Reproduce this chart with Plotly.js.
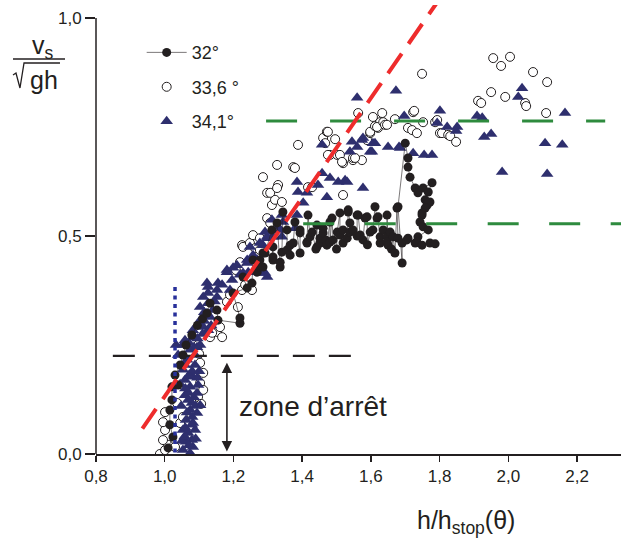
<!DOCTYPE html>
<html>
<head>
<meta charset="utf-8">
<script src="https://cdn.plot.ly/plotly-3.0.1.min.js"></script>
<style>html,body{margin:0;padding:0;background:#fff;}#chart{width:621px;height:548px;}</style>
</head>
<body>
<div id="chart"></div>
<script>
// ---- series 32° (filled circles, joined in measurement order) ----
const x32 = [1.010,1.024,1.015,1.015,1.021,1.021,1.039,1.030,1.045,1.053,1.062,1.079,1.095,1.110,1.123,1.132,1.152,1.155,1.219,1.219,1.199,1.240,1.228,1.254,
  1.257,1.269,1.272,1.277,1.277,1.286,1.286,1.292,1.312,1.315,1.315,1.315,1.327,1.336,1.336,1.341,1.344,1.356,1.356,1.365,1.365,1.374,1.379,1.394,1.394,1.394,
  1.414,1.414,1.417,1.423,1.429,1.440,1.443,1.443,1.452,1.452,1.461,1.461,1.470,1.472,1.481,1.481,1.487,1.490,1.500,1.502,1.510,1.510,1.519,1.519,1.531,1.534,
  1.534,1.539,1.539,1.548,1.560,1.560,1.563,1.569,1.577,1.583,1.589,1.590,1.598,1.606,1.612,1.618,1.621,1.627,1.627,1.636,1.647,1.647,1.647,1.650,1.656,1.660,
  1.665,1.670,1.676,1.679,1.691,1.691,1.679,1.700,1.708,1.708,1.714,1.729,1.737,1.752,1.778,1.767,1.758,1.772,1.764,1.767,1.758,1.749,1.749,1.743,1.752,1.767,
  1.737,1.729,1.708,1.705,1.734,1.749,1.772,1.787];
const y32 = [0.014,0.039,0.067,0.101,0.124,0.154,0.158,0.181,0.204,0.227,0.250,0.273,0.295,0.310,0.323,0.346,0.330,0.307,0.300,0.312,0.369,0.381,0.406,0.392,
  0.445,0.417,0.440,0.445,0.429,0.429,0.461,0.461,0.514,0.445,0.452,0.475,0.530,0.429,0.440,0.463,0.555,0.514,0.468,0.479,0.456,0.484,0.532,0.461,0.507,0.514,
  0.484,0.486,0.548,0.498,0.509,0.470,0.525,0.475,0.484,0.495,0.507,0.518,0.490,0.479,0.532,0.486,0.541,0.491,0.470,0.509,0.553,0.502,0.484,0.514,0.495,0.555,
  0.560,0.530,0.509,0.514,0.500,0.548,0.548,0.502,0.491,0.541,0.544,0.480,0.509,0.514,0.567,0.541,0.544,0.484,0.498,0.514,0.498,0.486,0.548,0.479,0.509,0.470,
  0.498,0.461,0.564,0.495,0.484,0.438,0.567,0.713,0.679,0.658,0.635,0.610,0.599,0.610,0.622,0.601,0.583,0.578,0.571,0.576,0.564,0.553,0.548,0.532,0.521,0.514,
  0.498,0.484,0.495,0.491,0.486,0.479,0.484,0.482];

// ---- series 33,6° (open circles) ----
const x336 = [0.986,1.001,1.010,1.030,0.995,1.001,0.995,1.001,1.045,1.053,1.036,1.097,1.103,1.112,1.103,1.100,1.097,1.112,1.106,1.132,1.132,1.152,1.167,1.161,1.138,1.181,1.190,1.213,1.225,1.234,1.254,1.207,1.219,1.225,1.228,1.248,1.263,1.257,1.277,1.277,1.298,1.307,1.312,1.321,1.341,1.298,1.307,1.330,1.327,1.286,1.327,1.374,1.379,1.388,1.417,1.429,1.461,1.472,1.475,1.467,1.496,1.481,1.502,1.475,1.510,1.519,1.516,1.548,1.574,1.548,1.554,1.519,1.563,1.589,1.598,1.598,1.612,1.621,1.606,1.627,1.618,1.633,1.636,1.641,1.647,1.670,1.723,1.726,1.708,1.720,1.734,1.749,1.752,1.787,1.793,1.801,1.807,1.825,1.831,1.848,1.912,1.921,1.950,1.956,1.979,2.005,1.991,2.049,2.052,2.072,2.113,2.110];
const y336 = [0.000,0.009,0.021,0.016,0.032,0.055,0.073,0.096,0.071,0.085,0.117,0.131,0.163,0.186,0.209,0.230,0.250,0.147,0.115,0.268,0.284,0.280,0.268,0.291,0.278,0.349,0.365,0.337,0.376,0.388,0.376,0.422,0.440,0.479,0.475,0.484,0.472,0.502,0.495,0.468,0.541,0.530,0.571,0.583,0.578,0.599,0.599,0.617,0.610,0.635,0.663,0.658,0.656,0.709,0.612,0.612,0.725,0.739,0.739,0.713,0.722,0.686,0.686,0.686,0.686,0.667,0.670,0.674,0.674,0.679,0.679,0.594,0.782,0.720,0.736,0.739,0.752,0.748,0.773,0.761,0.750,0.782,0.761,0.755,0.755,0.768,0.784,0.787,0.748,0.743,0.736,0.872,0.761,0.761,0.766,0.736,0.736,0.732,0.729,0.716,0.810,0.805,0.830,0.908,0.890,0.911,0.819,0.805,0.798,0.876,0.853,0.782];

// ---- series 34,1° (triangles) ----
const x341 = [1.673,1.560,1.697,1.801,1.793,1.822,1.851,1.848,1.909,1.924,1.950,1.930,1.982,2.040,2.029,2.165,2.107,2.157,2.113,1.650,1.682,1.723,1.755,1.778,1.545,1.574,1.606,1.539,1.560,1.603,1.685,1.525,1.577,1.458,1.577,1.612,1.598,1.385,1.458,1.481,1.505,1.531,1.446,1.472,1.414,1.388,1.403,1.385,1.344,1.330,1.315,1.298,1.341,1.286,1.240,1.257,1.341,1.312,1.336,1.379,1.292,1.277,1.248,1.181,1.199,1.155,1.219,1.243,1.269,1.292,1.126,1.152,1.190,1.210,1.181,1.228,1.167,1.196,1.152,1.123,1.126,1.103,1.103,1.132,1.112,1.082,1.082,1.277,1.298,1.298,1.240,1.126,1.112,1.123,1.103,1.126,1.094,1.065,1.053,1.082,1.074,1.094,1.079,1.094,1.082,1.068,1.079,1.053,1.082,1.059,1.088,1.074,1.059,1.097,1.059,1.074,1.062,1.088,1.062,1.074,1.103,1.068,1.039,1.033,1.059,1.088,1.103,1.079,1.053,
  1.050,1.070,1.090,1.060,1.080,1.065,1.090,1.070,1.085,1.060,1.080,1.095,1.070,1.100,1.085,1.095,1.110,1.070,1.115,1.140,1.145,1.135,1.115,1.048,1.058,1.045,1.052];
const y341 = [0.833,0.817,0.775,0.787,0.759,0.750,0.750,0.741,0.775,0.771,0.734,0.727,0.647,0.839,0.819,0.782,0.713,0.709,0.642,0.704,0.704,0.690,0.686,0.686,0.716,0.720,0.713,0.693,0.704,0.693,0.702,0.628,0.610,0.709,0.725,0.713,0.693,0.624,0.644,0.633,0.624,0.624,0.617,0.589,0.599,0.601,0.576,0.548,0.532,0.521,0.498,0.495,0.498,0.479,0.445,0.456,0.548,0.537,0.514,0.518,0.509,0.484,0.475,0.422,0.427,0.392,0.411,0.417,0.445,0.415,0.369,0.376,0.376,0.433,0.417,0.415,0.388,0.399,0.360,0.392,0.346,0.337,0.307,0.314,0.291,0.284,0.268,0.415,0.406,0.498,0.438,0.383,0.360,0.323,0.300,0.284,0.245,0.216,0.193,0.177,0.154,0.140,0.117,0.094,0.071,0.048,0.032,0.009,0.016,0.204,0.227,0.239,0.170,0.158,0.135,0.101,0.078,0.055,0.028,0.002,0.112,0.124,0.227,0.250,0.261,0.204,0.250,0.067,0.055,
  0.030,0.020,0.035,0.060,0.085,0.095,0.110,0.140,0.130,0.150,0.190,0.175,0.180,0.190,0.245,0.265,0.275,0.255,0.305,0.330,0.350,0.295,0.325,0.110,0.040,0.160,0.250];

// ---- guide lines ----
const fitX = [0.935, 1.80];
const fitY = [0.058, 1.044];
const upperX = [1.295, 2.282];
const upperY = [0.764, 0.764];
const lowerX = [1.403, 2.33];
const lowerY = [0.528, 0.528];
const stopX = [0.849, 1.563];
const stopY = [0.225, 0.225];
const vertX = [1.030, 1.030];
const vertY = [0.383, 0.0];

const legendNames = ['32°', '33,6 °', '34,1°'];
const xTicks = [0.8, 1.0, 1.2, 1.4, 1.6, 1.8, 2.0, 2.2];
const yTicks = [0, 0.5, 1.0];

const ink = '#231f20';
const navy = '#2e2f6e';
const F = 'Liberation Sans, Arial, sans-serif';

const traces = [
  {x: x336, y: y336, type: 'scatter', mode: 'markers', name: legendNames[1], legendrank: 2, legendgroup: 'b',
   marker: {symbol: 'circle', size: 9, color: '#ffffff', line: {color: ink, width: 1}}},
  {x: x341, y: y341, type: 'scatter', mode: 'markers', name: legendNames[2], legendrank: 3, legendgroup: 'c',
   marker: {symbol: 'triangle-up', size: 11, color: navy, line: {width: 0}}},
  {x: x32, y: y32, type: 'scatter', mode: 'lines+markers', name: legendNames[0], legendrank: 1, legendgroup: 'a',
   line: {color: ink, width: 0.6}, marker: {symbol: 'circle', size: 9, color: ink}},
  {x: stopX, y: stopY, type: 'scatter', mode: 'lines', showlegend: false, hoverinfo: 'skip',
   line: {color: ink, width: 2.2, dash: '22px,14px'}},
  {x: vertX, y: vertY, type: 'scatter', mode: 'lines', showlegend: false, hoverinfo: 'skip',
   line: {color: '#28309a', width: 3.5, dash: '4px,4.5px'}},
  {x: upperX, y: upperY, type: 'scatter', mode: 'lines', showlegend: false, hoverinfo: 'skip',
   line: {color: '#2e8b3e', width: 3, dash: '31px,33px'}},
  {x: lowerX, y: lowerY, type: 'scatter', mode: 'lines', showlegend: false, hoverinfo: 'skip',
   line: {color: '#2e8b3e', width: 3, dash: '31px,30.5px'}},
  {x: fitX, y: fitY, type: 'scatter', mode: 'lines', showlegend: false, hoverinfo: 'skip',
   line: {color: '#ee2c2c', width: 4, dash: '24px,12px'}}
];

const layout = {
  width: 621, height: 548,
  margin: {l: 96, r: 0, t: 5, b: 94},
  paper_bgcolor: '#ffffff', plot_bgcolor: '#ffffff',
  separators: ', ',
  font: {family: F, color: ink, size: 17},
  showlegend: true,
  legend: {x: 0.087, y: 0.935, xanchor: 'left', yanchor: 'top', bgcolor: 'rgba(0,0,0,0)',
           font: {family: F, size: 18, color: ink}, tracegroupgap: 8, traceorder: 'grouped', itemwidth: 40},
  xaxis: {range: [0.8, 2.328], tickvals: xTicks, tickformat: '.1f', ticks: 'outside', ticklen: 6,
          tickcolor: ink, tickwidth: 1.3, showline: true, linecolor: ink, linewidth: 1.5,
          showgrid: false, zeroline: false, tickfont: {family: F, size: 17, color: ink}},
  yaxis: {range: [0, 1.0298], tickvals: yTicks, tickformat: '.1f', ticks: 'outside', ticklen: 10,
          tickcolor: ink, tickwidth: 1.3, showline: false, showgrid: false, zeroline: false,
          tickfont: {family: F, size: 17, color: ink}},
  shapes: [
    {type: 'line', xref: 'paper', yref: 'y', x0: 0, x1: 0, y0: 0, y1: 1, line: {color: ink, width: 1.5}},
    {type: 'line', xref: 'paper', yref: 'paper', x0: -0.1581, x1: -0.059, y0: 0.8797, y1: 0.8797, line: {color: ink, width: 1.3}},
    {type: 'path', xref: 'paper', yref: 'paper',
     path: 'M-0.1581,0.8441 L-0.1524,0.8486 L-0.1448,0.8151 L-0.1371,0.8708 L-0.0686,0.8708',
     line: {color: ink, width: 1.3}}
  ],
  annotations: [
    {xref: 'paper', yref: 'paper', x: -0.101, y: 0.906, text: 'v<sub>s</sub>', showarrow: false,
     xanchor: 'center', yanchor: 'middle', font: {family: F, size: 25, color: ink}},
    {xref: 'paper', yref: 'paper', x: -0.1, y: 0.833, text: 'gh', showarrow: false,
     xanchor: 'center', yanchor: 'middle', font: {family: F, size: 25, color: ink}},
    {xref: 'paper', yref: 'paper', x: 0.705, y: -0.151, text: 'h/h<sub>stop</sub>(θ)', showarrow: false,
     xanchor: 'center', yanchor: 'middle', font: {family: F, size: 25, color: ink}},
    {xref: 'x', yref: 'y', x: 1.21, y: 0.11, text: 'zone d’arrêt', showarrow: false,
     xanchor: 'left', yanchor: 'middle', font: {family: F, size: 28, color: ink}},
    {xref: 'x', yref: 'y', x: 1.181, y: 0.006, axref: 'x', ayref: 'y', ax: 1.181, ay: 0.213, text: '',
     showarrow: true, arrowside: 'end+start', arrowhead: 2, arrowsize: 1.3, arrowwidth: 1.6, arrowcolor: ink}
  ]
};

Plotly.newPlot('chart', traces, layout, {displayModeBar: false, staticPlot: true});
</script>
</body>
</html>
